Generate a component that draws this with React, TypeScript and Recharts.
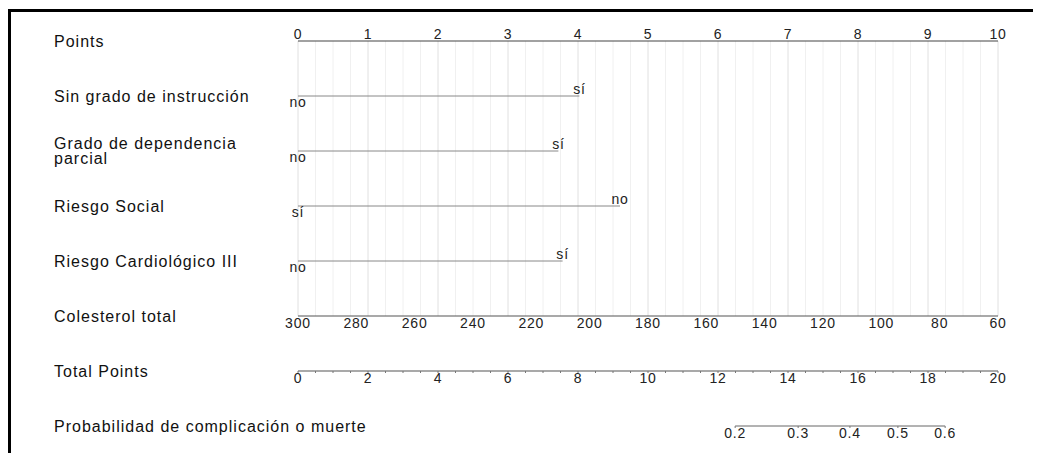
import { LineChart, Line, XAxis, YAxis, ReferenceLine, LabelList } from 'recharts'

const rowNames = [
  'Points',
  'Sin grado de instrucción',
  'Grado de dependencia\nparcial',
  'Riesgo Social',
  'Riesgo Cardiológico III',
  'Colesterol total',
  'Total Points',
  'Probabilidad de complicación o muerte',
]

const pointTicks = [0, 1, 2, 3, 4, 5, 6, 7, 8, 9, 10]
const cholTicks = [300, 280, 260, 240, 220, 200, 180, 160, 140, 120, 100, 80, 60]
const totalTicks = [0, 2, 4, 6, 8, 10, 12, 14, 16, 18, 20]
const probLabels = ['0.2', '0.3', '0.4', '0.5', '0.6']
// where each probability sits on the Total Points scale
const probAtTotal = [12.49, 14.29, 15.77, 17.14, 18.49]

const sinGrado = [{ level: 'no', points: 0 }, { level: 'sí', points: 4.02 }]
const dependencia = [{ level: 'no', points: 0 }, { level: 'sí', points: 3.72 }]
const riesgoSocial = [{ level: 'sí', points: 0 }, { level: 'no', points: 4.6 }]
const cardiologico = [{ level: 'no', points: 0 }, { level: 'sí', points: 3.78 }]

const factorRows = [sinGrado, dependencia, riesgoSocial, cardiologico].map((levels, i) =>
  levels.map((l) => ({ x: l.points, y: i + 1, label: l.level }))
)

const gridSteps = Array.from({ length: 41 }, (_, i) => i * 0.25)
const totalMinor = Array.from({ length: 41 }, (_, i) => i * 0.5)

const W = 1033
const plotLeft = 290
const plotRight = 990
const pxPerTotal = (plotRight - plotLeft) / 20
const rowY = [41, 96, 151, 206, 261, 316, 371, 426]

const tickStyle = { fill: '#222', fontSize: 14 }

function LevelLabel(props: any) {
  const { x, y, value, index } = props
  return (
    <text x={x} y={index === 0 ? y + 11 : y - 2} textAnchor="middle" fontSize={14} fill="#222">
      {value}
    </text>
  )
}

export default function App() {
  const probLeft = plotLeft + probAtTotal[0] * pxPerTotal
  const probRight = W - (plotLeft + probAtTotal[probAtTotal.length - 1] * pxPerTotal)
  return (
    <div
      style={{
        position: 'relative',
        width: W,
        height: 445,
        fontFamily: '"Liberation Sans", Arial, sans-serif',
        letterSpacing: '0.8px',
        background: '#fff',
      }}
    >
      <div style={{ position: 'absolute', left: 0, top: 1, width: W, height: 3, background: '#000' }} />
      <div style={{ position: 'absolute', left: 0, top: 1, width: 3, height: 444, background: '#000' }} />

      {rowNames.map((name, i) => (
        <div
          key={name}
          style={{
            position: 'absolute',
            left: 46,
            top: rowY[i] - 8,
            transform: 'translateY(-50%)',
            fontSize: 16,
            lineHeight: '15px',
            letterSpacing: '1px',
            color: '#111',
            whiteSpace: 'pre',
          }}
        >
          {name}
        </div>
      ))}

      <LineChart
        width={W}
        height={418}
        margin={{ top: 0, right: W - plotRight, bottom: 0, left: plotLeft }}
        style={{ position: 'absolute', left: 0, top: 0 }}
      >
        <XAxis
          xAxisId="points"
          orientation="top"
          type="number"
          dataKey="x"
          domain={[0, 10]}
          ticks={pointTicks}
          interval={0}
          height={33}
          tickLine={false}
          tickSize={0}
          tickMargin={2}
          axisLine={{ stroke: '#444', strokeWidth: 1.2 }}
          tick={tickStyle}
        />
        <XAxis
          xAxisId="chol"
          orientation="bottom"
          type="number"
          dataKey="x"
          domain={[60, 300]}
          reversed
          ticks={cholTicks}
          interval={0}
          height={55}
          tickLine={false}
          tickSize={0}
          tickMargin={2}
          axisLine={{ stroke: '#555', strokeWidth: 1.2 }}
          tick={tickStyle}
        />
        <XAxis
          xAxisId="total"
          orientation="bottom"
          type="number"
          dataKey="x"
          domain={[0, 20]}
          ticks={totalMinor}
          interval={0}
          height={55}
          tickSize={2}
          tickMargin={0}
          tickLine={{ stroke: '#777' }}
          axisLine={{ stroke: '#555', strokeWidth: 1.2 }}
          tick={tickStyle}
          tickFormatter={(v: number) => (totalTicks.includes(v) ? String(v) : '')}
        />
        <YAxis hide type="number" domain={[0, 5]} reversed />

        {gridSteps.map((v) => (
          <ReferenceLine
            key={v}
            xAxisId="points"
            x={v}
            stroke={Number.isInteger(v) ? '#e0e0e0' : '#f0f0f0'}
            strokeWidth={1}
          />
        ))}

        {factorRows.map((data, i) => (
          <Line
            key={i}
            xAxisId="points"
            data={data}
            dataKey="y"
            stroke="#888"
            strokeWidth={1}
            dot={false}
            isAnimationActive={false}
          >
            <LabelList dataKey="label" content={<LevelLabel />} />
          </Line>
        ))}

        <Line
          xAxisId="chol"
          data={[{ x: 300, y: 5 }, { x: 60, y: 5 }]}
          dataKey="y"
          stroke="none"
          dot={false}
          isAnimationActive={false}
        />
        <Line
          xAxisId="total"
          data={[{ x: 0, y: 5 }, { x: 20, y: 5 }]}
          dataKey="y"
          stroke="none"
          dot={false}
          isAnimationActive={false}
        />
      </LineChart>

      <LineChart
        width={W}
        height={30}
        margin={{ top: 0, right: probRight, bottom: 0, left: probLeft }}
        style={{ position: 'absolute', left: 0, top: 413 }}
      >
        <XAxis
          type="number"
          dataKey="x"
          domain={[probAtTotal[0], probAtTotal[probAtTotal.length - 1]]}
          ticks={probAtTotal}
          interval={0}
          height={25}
          tickSize={2}
          tickMargin={0}
          tickLine={{ stroke: '#777' }}
          axisLine={{ stroke: '#666' }}
          tick={tickStyle}
          tickFormatter={(v: number) => probLabels[probAtTotal.indexOf(v)]}
        />
        <YAxis hide type="number" domain={[0, 1]} />
        <Line
          data={[{ x: probAtTotal[0], y: 0 }, { x: probAtTotal[probAtTotal.length - 1], y: 0 }]}
          dataKey="y"
          stroke="none"
          dot={false}
          isAnimationActive={false}
        />
      </LineChart>
    </div>
  )
}
